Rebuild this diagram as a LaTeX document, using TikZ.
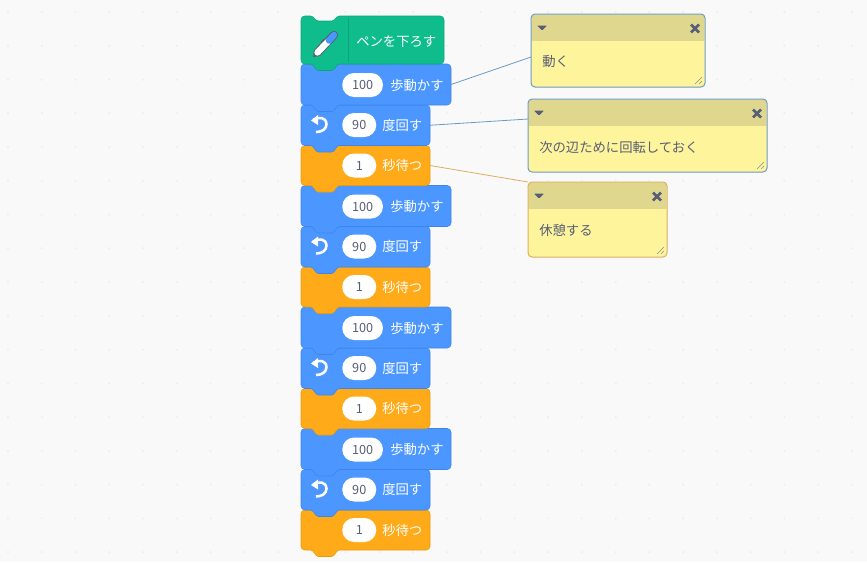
\documentclass[tikz,border=0pt]{standalone}
\usepackage{fontspec}
\setmainfont{Noto Sans CJK JP}
\usepackage{xcolor}
\usetikzlibrary{positioning}
\definecolor{paper}{HTML}{F9F9F9}
\definecolor{griddot}{HTML}{F0F0F0}
\definecolor{motion}{HTML}{4C97FF}
\definecolor{motionedge}{HTML}{3F84E8}
\definecolor{control}{HTML}{FFAB19}
\definecolor{controledge}{HTML}{E89A14}
\definecolor{pen}{HTML}{0FBD8C}
\definecolor{penedge}{HTML}{0DA57A}
\definecolor{slate}{HTML}{575E75}
\definecolor{notebody}{HTML}{FEF49C}
\definecolor{notehead}{HTML}{E0D78E}
\definecolor{bluelink}{HTML}{6C9AC4}
\definecolor{orangelink}{HTML}{DDAE62}

% one stack block: name, top, width, height, colour
\newcommand{\stackblock}[5]{
    \node[blockbox, minimum width=#3*0.75pt, minimum height=#4*0.75pt] (#1) at (301,#2) {};
    \filldraw[fill=#5, draw=#5edge, line width=0.4pt, rounded corners=2.8pt]
        (301,#2) [rounded corners=1pt] -- (312,#2) -- (317,#2+5) -- (333,#2+5) -- (338,#2)
        [rounded corners=2.8pt] -- (301+#3,#2) -- (301+#3,#2+#4) [rounded corners=1pt] -- (338,#2+#4)
        -- (333,#2+#4+6.5) -- (317,#2+#4+6.5) -- (312,#2+#4) [rounded corners=2.8pt]
        -- (301,#2+#4) -- cycle;
}
% one comment box: name, left, top, width, height, edge colour, text
\newcommand{\commentbox}[7]{
    \node[notebox, minimum width=#4*0.75pt, minimum height=#5*0.75pt] (#1) at (#2,#3) {};
    \fill[notehead, rounded corners=2.2pt] (#2+0.6,#3+26.5) -- (#2+0.6,#3+0.6) -- (#2+#4-0.6,#3+0.6) -- (#2+#4-0.6,#3+26.5);
    \fill[notehead] (#2+0.6,#3+20) rectangle (#2+#4-0.6,#3+26.5);
    \draw[#6, line width=0.75pt, rounded corners=3pt] (#2,#3) rectangle (#2+#4,#3+#5);
    \node[notetext] (#1text) at (#2+11,#3+48) {#7};
    % fold arrow
    \fill[slate, rounded corners=0.6pt] (#2+6,#3+11.5) -- (#2+16,#3+11.5) -- (#2+11,#3+16.5) -- cycle;
    % close cross
    \draw[slate, line width=2.1pt] (#2+#4-14,#3+10.5) -- (#2+#4-6,#3+18.5) (#2+#4-14,#3+18.5) -- (#2+#4-6,#3+10.5);
    % resize grip
    \draw[slate!70, line width=0.45pt] (#2+#4-10,#3+#5-3) -- (#2+#4-3,#3+#5-10) (#2+#4-6,#3+#5-3) -- (#2+#4-3,#3+#5-6);
}

\begin{document}
\begin{tikzpicture}[
        x=0.75pt, y=-0.75pt,
        blockbox/.style={rectangle, anchor=north west, inner sep=0pt, outer sep=0pt},
        notebox/.style={rectangle, anchor=north west, inner sep=0pt, outer sep=0pt, fill=notebody, rounded corners=3pt},
        notetext/.style={anchor=west, inner sep=0pt, text=slate, font=\fontsize{10}{12}\selectfont},
        pill/.style={rectangle, anchor=west, fill=white, rounded corners=8.9pt, minimum height=18pt, inner sep=0pt, text=slate, font=\fontsize{9.5}{12}\selectfont},
        label/.style={anchor=west, inner sep=0pt, text=white, font=\fontsize{10}{12}\selectfont},
        link/.style={line width=0.6pt}
    ]
    % Background
    \useasboundingbox (0,0) rectangle (867,562);
    \fill[paper] (0,0) rectangle (867,562);
    \foreach \i in {0,...,25}
        \foreach \j in {0,...,16}
            \fill[griddot] (8+\i*33.76,12+\j*33.76) circle (1.3);

    % Stacks, lowest first so that each tab lies over the next block
    \foreach \row/\ty in {4/428.5,3/307,2/185.5,1/64} {
        % Wait
        \stackblock{wait\row}{\ty+81.5}{129}{40}{control}
        \node[pill, minimum width=25.5pt] (wait\row val) at (342,\ty+101.5) {1};
        \node[label] (wait\row txt) at (382,\ty+101.5) {秒待つ};

        % Turn
        \stackblock{turn\row}{\ty+41}{129}{40.5}{motion}
        \node[pill, minimum width=25.5pt] (turn\row val) at (342,\ty+61) {90};
        \node[label] (turn\row txt) at (382,\ty+61) {度回す};
        \draw[white, line width=1.9pt] (313,\ty+56) .. controls (319,\ty+52.5) and (326,\ty+53) .. (326.5,\ty+60)
            .. controls (326.5,\ty+65) and (322,\ty+68) .. (316,\ty+68);
        \fill[white] (311,\ty+56.5) -- (318,\ty+51) -- (318,\ty+61) -- cycle;

        % Move
        \stackblock{move\row}{\ty}{150}{41}{motion}
        \node[pill, minimum width=30.5pt] (move\row val) at (342,\ty+21) {100};
        \node[label] (move\row txt) at (390,\ty+21) {歩動かす};
    }

    % Pen
    \stackblock{pendown}{16}{143}{48}{pen}
    \draw[penedge, line width=0.5pt] (348,18) -- (348,62);
    \node[label] (pendowntxt) at (356,41.5) {ペンを下ろす};
    \fill[slate] (313,57) -- (314.5,49.5) -- (320.5,55.5) -- cycle;
    \draw[slate, line width=6.2pt, line cap=round] (317.5,52.5) -- (334,35);
    \draw[white, line width=4.8pt, line cap=round] (317.5,52.5) -- (327.5,42);
    \draw[motion, line width=4.8pt, line cap=round] (329,40.5) -- (334,35);
    \draw[slate, line width=0.8pt] (321,42) -- (324,39);

    % Comments
    \commentbox{notemove}{531}{14}{174}{73}{bluelink}{動く}
    \commentbox{noteturn}{528}{99}{239}{73}{bluelink}{次の辺ために回転しておく}
    \commentbox{notewait}{528}{182}{139}{75}{orangelink}{休憩する}

    % Links
    \coordinate (movelink) at (531,57);
    \coordinate (turnlink) at (528,119);
    \draw[link, bluelink] (move1.east) -- (movelink);
    \draw[link, bluelink] (turn1.east) -- (turnlink);
    \draw[link, orangelink] (wait1.east) -- (notewait.north west);
\end{tikzpicture}
\end{document}
